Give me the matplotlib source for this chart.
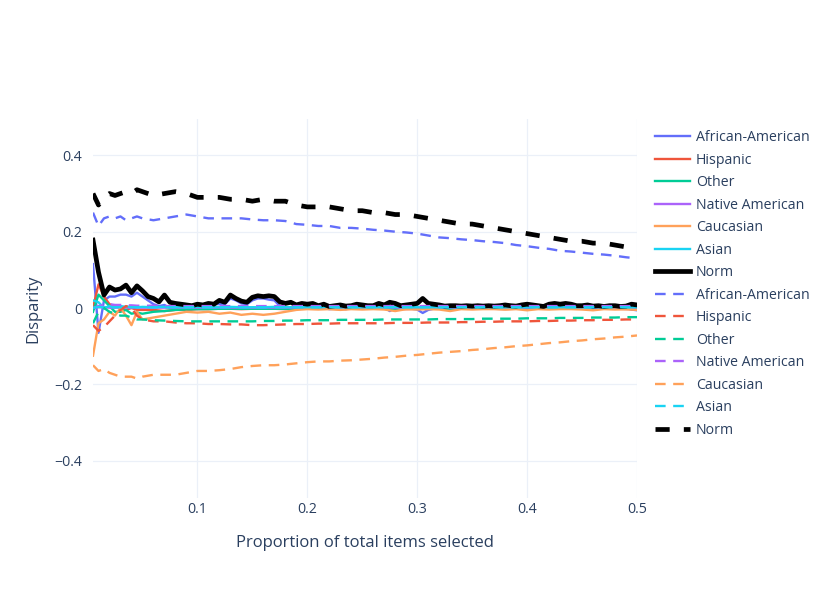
import numpy as np
import matplotlib
matplotlib.use('Agg')
import matplotlib.pyplot as plt

plt.rcParams['font.family'] = ['Open Sans', 'DejaVu Sans']

# x grids: fine one for the jagged solid lines, coarser one for the rest
x_fine = np.round(np.arange(1, 101) * 0.005, 3)
x_coarse = np.round(np.r_[np.arange(1, 11) * 0.005, np.arange(6, 51) * 0.01], 3)

groups = ['African-American', 'Hispanic', 'Other', 'Native American', 'Caucasian', 'Asian', 'Norm']
colors = ['#636efa', '#EF553B', '#00cc96', '#ab63fa', '#FFA15A', '#19d3f3', 'black']

# ---- solid lines ----
aa_solid = [0.115, -0.065, 0.02, 0.03, 0.03, 0.035, 0.035, 0.03, 0.04, 0.03,
            0.02, 0.01, 0.005, 0.008, 0.0, -0.002, 0.0, 0.002, -0.002, 0.0,
            0.0, 0.005, 0.01, 0.01, 0.01, 0.025, 0.02, 0.012, 0.01, 0.02,
            0.025, 0.025, 0.022, 0.02, 0.005, 0.0, 0.002, -0.002, 0.0, 0.002,
            0.0, -0.002, 0.0, -0.003, -0.002, 0.0, -0.003, 0.0, -0.002, 0.0,
            0.0, -0.002, 0.0, 0.002, -0.008, 0.0, -0.003, 0.0, -0.002, -0.004,
            -0.013, -0.005, -0.002, -0.002, 0.0, -0.002, 0.0, -0.002, 0.0, 0.0,
            -0.002, 0.0, 0.0, -0.002, 0.0, -0.002, 0.0, 0.0, -0.002, 0.0,
            -0.002, 0.0, -0.002, 0.0, 0.002, 0.0, 0.002, 0.0, -0.002, 0.0,
            0.0, -0.002, 0.0, -0.002, 0.0, -0.002, -0.002, 0.0, -0.004, -0.006]
norm_solid = [0.178, 0.094, 0.034, 0.055, 0.047, 0.05, 0.06, 0.04, 0.058, 0.045,
              0.03, 0.025, 0.016, 0.034, 0.015, 0.012, 0.01, 0.008, 0.006, 0.01,
              0.008, 0.012, 0.01, 0.02, 0.015, 0.034, 0.025, 0.018, 0.015, 0.028,
              0.032, 0.03, 0.032, 0.03, 0.016, 0.012, 0.015, 0.008, 0.012, 0.01,
              0.012, 0.006, 0.01, 0.004, 0.006, 0.008, 0.005, 0.006, 0.01, 0.008,
              0.006, 0.006, 0.012, 0.008, 0.015, 0.012, 0.006, 0.008, 0.01, 0.012,
              0.025, 0.012, 0.01, 0.008, 0.005, 0.006, 0.006, 0.005, 0.006, 0.005,
              0.006, 0.005, 0.006, 0.005, 0.006, 0.008, 0.006, 0.005, 0.008, 0.01,
              0.008, 0.006, 0.004, 0.01, 0.012, 0.01, 0.012, 0.01, 0.006, 0.006,
              0.008, 0.005, 0.006, 0.004, 0.006, 0.006, 0.004, 0.005, 0.01, 0.008]
hisp_solid = [0.0, 0.062, 0.03, 0.01, 0.005, 0.0, -0.005, 0.0, -0.005, -0.005,
              -0.005, -0.008, -0.005, -0.005, -0.003,
              -0.003, -0.002, -0.002, -0.003, -0.002, -0.002, -0.002, -0.003, -0.002, -0.002,
              -0.002, -0.002, -0.003, -0.002, -0.002, -0.002, -0.002, -0.002, -0.003, -0.002,
              -0.002, -0.002, -0.002, -0.002, -0.002, -0.002, -0.002, -0.003, -0.002, -0.002,
              -0.002, -0.002, -0.002, -0.002, -0.002, -0.002, -0.002, -0.002, -0.003, -0.003]
other_solid = [-0.01, 0.035, 0.02, 0.005, -0.01, -0.01, -0.005, -0.015, -0.012, -0.015,
               -0.01, -0.008, -0.005, -0.004, -0.003,
               -0.003, -0.002, -0.002, -0.002, -0.002, -0.002, -0.002, -0.002, -0.002, -0.002,
               -0.002, -0.002, -0.002, -0.002, -0.002, -0.002, -0.002, -0.002, -0.002, -0.002,
               -0.002, -0.002, -0.002, -0.002, -0.002, -0.002, -0.002, -0.002, -0.002, -0.002,
               -0.002, -0.002, -0.002, -0.002, -0.002, -0.002, -0.002, -0.002, -0.002, -0.002]
native_solid = [0.0, 0.002, 0.002, 0.001, 0.001, 0.001, 0.001, 0.001, 0.001, 0.001,
                0.001, 0.001, 0.001, 0.001, 0.001,
                0.001, 0.001, 0.001, 0.001, 0.001, 0.001, 0.001, 0.001, 0.001, 0.001,
                0.001, 0.001, 0.001, 0.001, 0.001, 0.001, 0.001, 0.001, 0.001, 0.001,
                0.001, 0.001, 0.001, 0.001, 0.001, 0.001, 0.001, 0.001, 0.001, 0.001,
                0.001, 0.001, 0.001, 0.001, 0.001, 0.001, 0.001, 0.001, 0.001, 0.001]
cauc_solid = [-0.125, -0.04, -0.03, -0.01, -0.02, 0.0, -0.02, -0.045, -0.01, -0.03,
              -0.025, -0.02, -0.015, -0.01, -0.012,
              -0.01, -0.015, -0.012, -0.018, -0.015, -0.018, -0.015, -0.01, -0.005, -0.003,
              -0.004, -0.003, -0.005, -0.003, -0.004, -0.003, -0.004, -0.008, -0.003, -0.004,
              -0.003, -0.004, -0.008, -0.003, -0.004, -0.003, -0.003, -0.004, -0.003, -0.006,
              -0.003, -0.004, -0.003, -0.003, -0.004, -0.006, -0.003, -0.004, -0.003, -0.005]
asian_solid = [0.02, 0.015, 0.0, 0.005, 0.002, 0.005, 0.003, 0.004, 0.002, 0.003,
               0.002, 0.003, 0.002, 0.002, 0.003,
               0.002, 0.002, 0.003, 0.002, 0.002, 0.002, 0.003, 0.002, 0.002, 0.002,
               0.002, 0.003, 0.002, 0.002, 0.002, 0.002, 0.002, 0.003, 0.002, 0.002,
               0.002, 0.002, 0.002, 0.003, 0.002, 0.002, 0.002, 0.002, 0.002, 0.002,
               0.003, 0.002, 0.002, 0.002, 0.002, 0.002, 0.002, 0.003, 0.002, 0.002]

# ---- dashed lines (coarse grid) ----
aa_dash = [0.25, 0.215, 0.235, 0.24, 0.235, 0.24, 0.23, 0.235, 0.24, 0.235,
           0.23, 0.235, 0.24, 0.245,
           0.24, 0.235, 0.235, 0.235, 0.235, 0.232, 0.23, 0.23, 0.228, 0.22,
           0.218, 0.215, 0.215, 0.21, 0.21, 0.208, 0.205, 0.203, 0.2, 0.198,
           0.195, 0.19, 0.185, 0.183, 0.18, 0.178, 0.175, 0.173, 0.17, 0.165,
           0.162, 0.158, 0.155, 0.15, 0.148, 0.145, 0.142, 0.14, 0.137, 0.133, 0.13]
hisp_dash = [-0.045, -0.06, -0.05, -0.035, -0.02, -0.005, 0.005, 0.0, -0.02, -0.03,
             -0.035, -0.035, -0.038, -0.04,
             -0.04, -0.042, -0.042, -0.043, -0.043, -0.045, -0.045, -0.044, -0.043, -0.042,
             -0.042, -0.041, -0.041, -0.04, -0.04, -0.04, -0.04, -0.04, -0.039, -0.039,
             -0.039, -0.038, -0.038, -0.038, -0.037, -0.037, -0.036, -0.036, -0.035, -0.035,
             -0.035, -0.034, -0.034, -0.033, -0.033, -0.032, -0.032, -0.031, -0.031, -0.03, -0.03]
other_dash = [-0.04, -0.01, 0.0, -0.01, -0.015, -0.02, -0.02, -0.025, -0.03, -0.03,
              -0.032, -0.033, -0.034, -0.035,
              -0.035, -0.035, -0.035, -0.035, -0.035, -0.035, -0.034, -0.034, -0.033, -0.033,
              -0.032, -0.032, -0.032, -0.031, -0.031, -0.031, -0.031, -0.03, -0.03, -0.03,
              -0.03, -0.03, -0.029, -0.029, -0.029, -0.029, -0.028, -0.028, -0.028, -0.028,
              -0.027, -0.027, -0.027, -0.026, -0.026, -0.026, -0.025, -0.025, -0.025, -0.024, -0.024]
native_dash = [0.0, 0.005, 0.008, 0.01, 0.008, 0.008, 0.007, 0.007, 0.006, 0.006,
               0.006, 0.005, 0.005, 0.005,
               0.005, 0.005, 0.005, 0.005, 0.005, 0.005, 0.005, 0.005, 0.005, 0.005,
               0.005, 0.005, 0.005, 0.005, 0.005, 0.005, 0.005, 0.005, 0.005, 0.005,
               0.005, 0.005, 0.005, 0.005, 0.005, 0.005, 0.005, 0.005, 0.005, 0.005,
               0.005, 0.005, 0.005, 0.005, 0.005, 0.005, 0.005, 0.005, 0.005, 0.005, 0.005]
cauc_dash = [-0.15, -0.165, -0.16, -0.17, -0.175, -0.18, -0.18, -0.18, -0.185, -0.18,
             -0.175, -0.175, -0.175, -0.17,
             -0.165, -0.165, -0.163, -0.16, -0.155, -0.152, -0.15, -0.15, -0.148, -0.145,
             -0.142, -0.14, -0.14, -0.138, -0.137, -0.135, -0.133, -0.13, -0.128, -0.125,
             -0.123, -0.12, -0.117, -0.115, -0.113, -0.11, -0.108, -0.105, -0.103, -0.1,
             -0.098, -0.095, -0.092, -0.09, -0.087, -0.085, -0.082, -0.08, -0.077, -0.075, -0.072]
asian_dash = [0.0, 0.003, 0.002, 0.002, 0.002, 0.002, 0.002, 0.002, 0.002, 0.002,
              0.002, 0.002, 0.002, 0.002,
              0.002, 0.002, 0.002, 0.002, 0.002, 0.002, 0.002, 0.002, 0.002, 0.002,
              0.002, 0.002, 0.002, 0.002, 0.002, 0.002, 0.002, 0.002, 0.002, 0.002,
              0.002, 0.002, 0.002, 0.002, 0.002, 0.002, 0.002, 0.002, 0.002, 0.002,
              0.002, 0.002, 0.002, 0.002, 0.002, 0.002, 0.002, 0.002, 0.002, 0.002, 0.002]
norm_dash = [0.30, 0.27, 0.29, 0.30, 0.295, 0.30, 0.305, 0.30, 0.31, 0.305,
             0.295, 0.30, 0.305, 0.30,
             0.29, 0.29, 0.29, 0.285, 0.285, 0.28, 0.285, 0.28, 0.28, 0.27,
             0.265, 0.265, 0.265, 0.26, 0.255, 0.255, 0.25, 0.25, 0.245, 0.245,
             0.24, 0.235, 0.23, 0.225, 0.22, 0.22, 0.215, 0.21, 0.205, 0.20,
             0.195, 0.19, 0.185, 0.18, 0.175, 0.175, 0.17, 0.17, 0.165, 0.16, 0.155]

solid = [(x_fine, aa_solid), (x_coarse, hisp_solid), (x_coarse, other_solid),
         (x_coarse, native_solid), (x_coarse, cauc_solid), (x_coarse, asian_solid),
         (x_fine, norm_solid)]
dashed = [aa_dash, hisp_dash, other_dash, native_dash, cauc_dash, asian_dash, norm_dash]

W, H = 831, 593
fig = plt.figure(figsize=(W / 100, H / 100), dpi=100)
# plot area 93..637 px wide, 119..498 px high
ax = fig.add_axes([93 / W, (H - 498) / H, 544 / W, 379 / H])

for (xs, ys), name, c in zip(solid, groups, colors):
    lw = 3.4 if name == 'Norm' else 1.7
    ax.plot(xs, ys, color=c, lw=lw, label=name, solid_joinstyle='round')
for ys, name, c in zip(dashed, groups, colors):
    lw = 3.4 if name == 'Norm' else 1.7
    pat = (3, 3) if name == 'Norm' else (4.5, 3.2)
    ax.plot(x_coarse, ys, color=c, lw=lw, label=name, linestyle=(0, pat),
            dash_capstyle='butt')

ax.set_xlim(0.005, 0.5)
ax.set_ylim(-(498 - 308) / 381.5, (308 - 119) / 381.5)
ax.set_xticks([0.1, 0.2, 0.3, 0.4, 0.5])
ax.set_xticklabels(['0.1', '0.2', '0.3', '0.4', '0.5'])
ax.set_yticks([-0.4, -0.2, 0, 0.2, 0.4])
ax.set_yticklabels(['\u22120.4', '\u22120.2', '0', '0.2', '0.4'])
ax.grid(True, color='#EBF0F8', lw=0.9)
ax.set_axisbelow(True)
for s in ax.spines.values():
    s.set_visible(False)
ax.tick_params(length=0, labelsize=10.2, labelcolor='#2a3f5f')
ax.tick_params(axis='y', pad=8)
ax.tick_params(axis='x', pad=3)
ax.set_xlabel('Proportion of total items selected', fontsize=12, color='#2a3f5f', labelpad=13)
ax.set_ylabel('Disparity', fontsize=12, color='#2a3f5f', labelpad=9)

leg = ax.legend(loc='upper left', bbox_to_anchor=(648 / W, 1 - 123 / H),
                bbox_transform=fig.transFigure, frameon=False, fontsize=10.2,
                handlelength=2.45, handletextpad=0.42, labelspacing=0.53, borderpad=0)
for t in leg.get_texts():
    t.set_color('#2a3f5f')

fig.savefig('out.png', dpi=100)
